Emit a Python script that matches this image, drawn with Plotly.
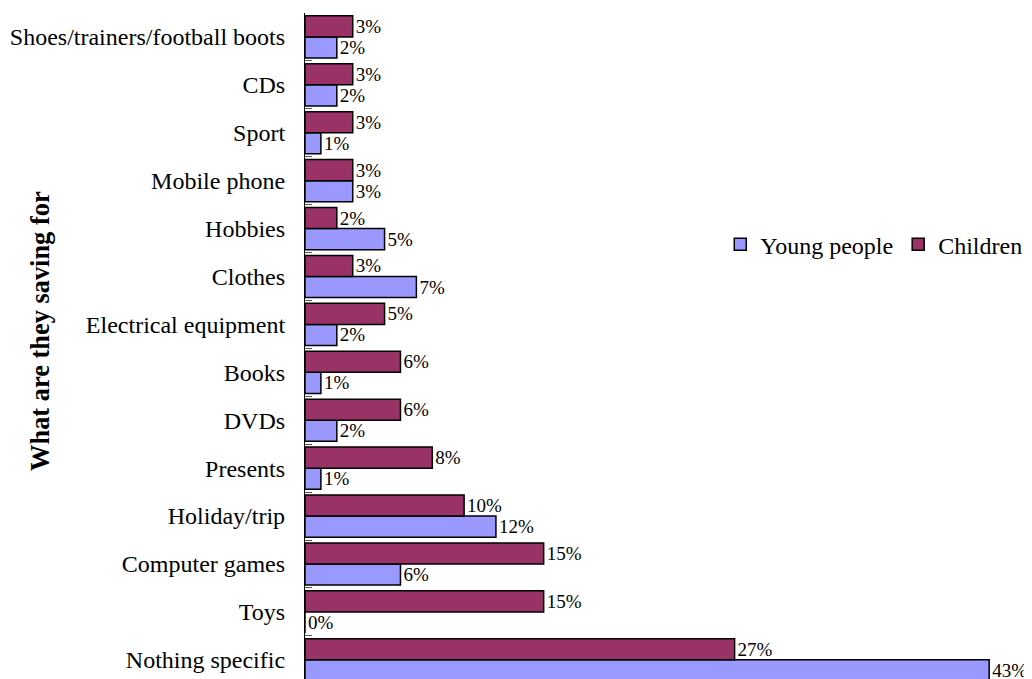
import plotly.graph_objects as go

categories = ["Nothing specific", "Toys", "Computer games", "Holiday/trip", "Presents",
              "DVDs", "Books", "Electrical equipment", "Clothes", "Hobbies",
              "Mobile phone", "Sport", "CDs", "Shoes/trainers/football boots"]
young_people = [43, 0, 6, 12, 1, 2, 1, 2, 7, 5, 3, 1, 2, 2]
children = [27, 15, 15, 10, 8, 6, 6, 5, 3, 2, 3, 3, 3, 3]

FONT = "Liberation Serif, Times New Roman, serif"

fig = go.Figure()
fig.add_trace(go.Bar(
    y=categories, x=young_people, orientation="h", name="Young people",
    marker=dict(color="#9999FF", line=dict(color="black", width=1.5)),
    texttemplate="%{x}%", textposition="outside", constraintext="none", cliponaxis=False,
    textfont=dict(family=FONT, size=19, color="black"),
))
fig.add_trace(go.Bar(
    y=categories, x=children, orientation="h", name="Children",
    marker=dict(color="#993366", line=dict(color="black", width=1.5)),
    texttemplate="%{x}%", textposition="outside", constraintext="none", cliponaxis=False,
    textfont=dict(family=FONT, size=19, color="black"),
))

fig.update_layout(
    width=1024, height=671,
    margin=dict(l=297, r=11, t=5, b=0, autoexpand=False),
    paper_bgcolor="white", plot_bgcolor="white",
    barmode="group", bargap=0.12, bargroupgap=0,
    font=dict(family=FONT, size=24, color="black"),
    showlegend=True,
    legend=dict(orientation="h", xref="paper", yref="paper",
                x=0.58, y=0.652, xanchor="left", yanchor="middle",
                font=dict(family=FONT, size=24, color="black"),
                bgcolor="rgba(0,0,0,0)", traceorder="normal"),
    xaxis=dict(range=[0, 45], visible=False, showgrid=False, zeroline=False),
    yaxis=dict(type="category", range=[-0.4, 13.5], showline=True, linecolor="black",
               linewidth=1.2, ticks="inside", tickson="boundaries", ticklen=7,
               tickcolor="#555555", tickfont=dict(family=FONT, size=24, color="black"),
               showgrid=False, zeroline=False, ticklabelstandoff=14, automargin=False),
    annotations=[dict(text="<b>What are they saving for</b>", textangle=-90,
                      xref="paper", yref="paper", x=-0.394, y=0.5225,
                      showarrow=False, font=dict(family=FONT, size=26.4, color="black"))],
)

fig.write_html("out.html",
               post_script="document.documentElement.style.overflow='hidden';")
